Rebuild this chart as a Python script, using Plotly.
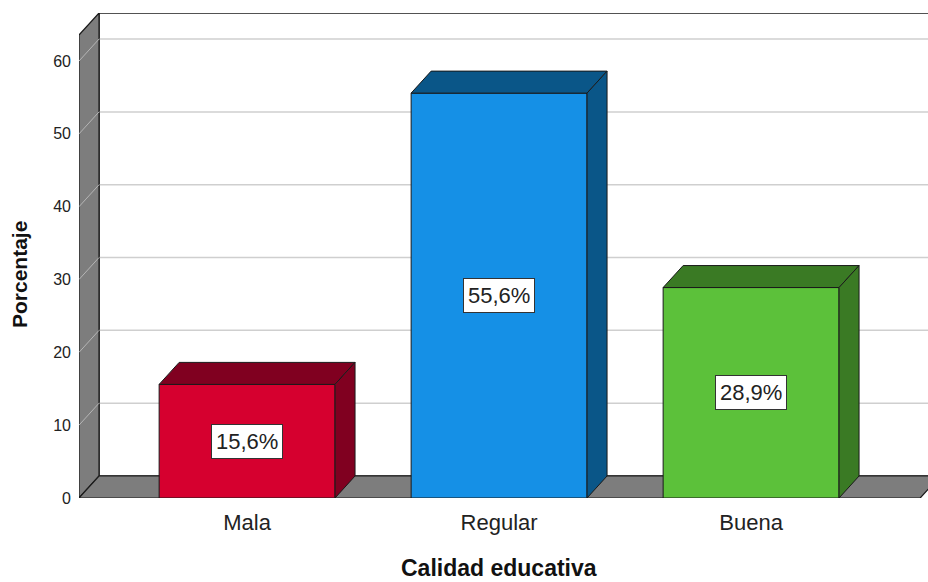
import plotly.graph_objects as go

# Data
categories = ["Mala", "Regular", "Buena"]
percentages = [15.6, 55.6, 28.9]
y_ticks = [0, 10, 20, 30, 40, 50, 60]

# Styling
front_colors = ["#d6002f", "#1590e6", "#5cc13a"]
dark_colors = ["#800020", "#0a5688", "#3a7a24"]
wall_color = "#7d7d7d"
grid_color = "#cfcfcf"
edge_color = "#1a1a1a"
FONT = "Arial, Liberation Sans, sans-serif"

# Geometry of the pseudo-3D box (data units)
BAR_W = 0.698
DX = 0.0794          # depth offset along x
DY = 3.02            # depth offset along y
X_MIN, X_MAX = -0.667, 2.702
Y_MAX = 66.6
WALL_H = Y_MAX - DY
FLOOR_R = 2.671

xs = list(range(len(categories)))

fig = go.Figure()

shapes = []
# back wall with outline
shapes.append(dict(type="rect", xref="x", yref="y", x0=X_MIN + DX, x1=X_MAX + 1,
                   y0=DY, y1=Y_MAX, fillcolor="white",
                   line=dict(color=edge_color, width=1.5), layer="below"))
# gridlines on back wall and across left wall
for v in y_ticks[1:]:
    shapes.append(dict(type="line", xref="x", yref="y", x0=X_MIN + DX, x1=X_MAX + 1,
                       y0=v + DY, y1=v + DY, line=dict(color=grid_color, width=1.5),
                       layer="below"))
# left wall
shapes.append(dict(type="path", xref="x", yref="y",
                   path=f"M {X_MIN},0 L {X_MIN},{WALL_H} L {X_MIN + DX},{Y_MAX} "
                        f"L {X_MIN + DX},{DY} Z",
                   fillcolor=wall_color, line=dict(color=edge_color, width=1.2),
                   layer="below"))
for v in y_ticks[1:]:
    shapes.append(dict(type="line", xref="x", yref="y", x0=X_MIN, x1=X_MIN + DX,
                       y0=v, y1=v + DY, line=dict(color="#b5b5b5", width=1),
                       layer="below"))
# floor
shapes.append(dict(type="path", xref="x", yref="y",
                   path=f"M {X_MIN},0 L {FLOOR_R},0 L {FLOOR_R + DX},{DY} "
                        f"L {X_MIN + DX},{DY} Z",
                   fillcolor=wall_color, line=dict(color=edge_color, width=1.2),
                   layer="below"))

# front faces of the bars
fig.add_trace(go.Bar(x=xs, y=percentages, width=BAR_W,
                     marker=dict(color=front_colors, line=dict(color=edge_color, width=1)),
                     hoverinfo="skip", showlegend=False))

# top and side faces
for x, v, dark in zip(xs, percentages, dark_colors):
    l, r = x - BAR_W / 2, x + BAR_W / 2
    fig.add_trace(go.Scatter(
        x=[l, l + DX, r + DX, r, l], y=[v, v + DY, v + DY, v, v],
        mode="lines", fill="toself", fillcolor=dark,
        line=dict(color=edge_color, width=1), hoverinfo="skip", showlegend=False))
    fig.add_trace(go.Scatter(
        x=[r, r + DX, r + DX, r, r], y=[v, v + DY, DY, 0, v],
        mode="lines", fill="toself", fillcolor=dark,
        line=dict(color=edge_color, width=1), hoverinfo="skip", showlegend=False))

annotations = []
for x, v in zip(xs, percentages):
    annotations.append(dict(x=x, y=v / 2, xref="x", yref="y",
                            text=f"{v:.1f}".replace(".", ",") + "%",
                            showarrow=False, bgcolor="white", bordercolor="#333333",
                            borderwidth=1, borderpad=4,
                            font=dict(family=FONT, size=22, color="#222222")))
annotations.append(dict(x=0, y=(498 - 275) / 485, xref="paper", yref="paper",
                        xshift=-60, text="<b>Porcentaje</b>", textangle=-90,
                        showarrow=False, xanchor="center", yanchor="middle",
                        font=dict(family=FONT, size=21, color="#111111")))
annotations.append(dict(x=(499 - 79) / 849, y=0, xref="paper", yref="paper",
                        yshift=-70, text="<b>Calidad educativa</b>",
                        showarrow=False, xanchor="center", yanchor="middle",
                        font=dict(family=FONT, size=23, color="#111111")))

fig.update_layout(
    width=928, height=582,
    margin=dict(l=79, r=0, t=13, b=84),
    paper_bgcolor="white", plot_bgcolor="white",
    shapes=shapes, annotations=annotations,
    xaxis=dict(range=[X_MIN, X_MAX], tickvals=xs, ticktext=categories,
               showgrid=False, zeroline=False, showline=False, ticks="",
               ticklabelstandoff=9,
               tickfont=dict(family=FONT, size=22, color="#222222")),
    yaxis=dict(range=[0, Y_MAX], tickvals=y_ticks, showgrid=False, zeroline=False,
               showline=False, ticks="", ticklabelstandoff=7,
               tickfont=dict(family=FONT, size=16, color="#222222")),
)

fig.write_html("out.html")
